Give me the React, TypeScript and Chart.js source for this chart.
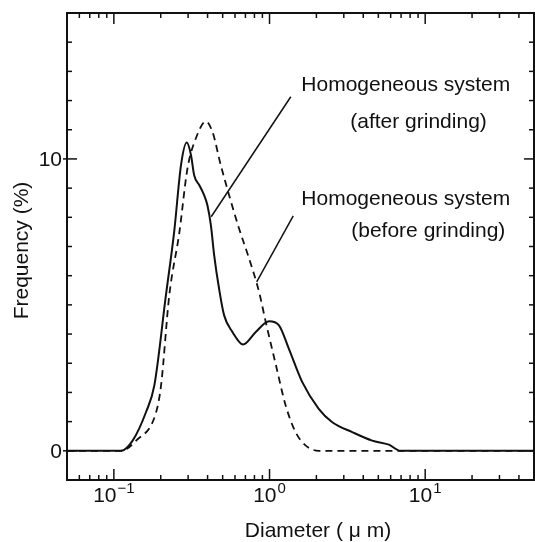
import { useEffect, useRef } from "react";
import { Chart, registerables } from "chart.js";

Chart.register(...registerables);

// Homogeneous system (after grinding) – solid line
const afterDiameter = [0.05, 0.08, 0.111, 0.132, 0.161, 0.182, 0.216, 0.244, 0.27, 0.294, 0.313, 0.328, 0.354, 0.38, 0.399, 0.42, 0.441, 0.474, 0.511, 0.578, 0.676, 0.816, 0.993, 1.15, 1.33, 1.62, 2.07, 2.53, 3.4, 4.56, 5.84, 6.93, 50];
const afterFreq = [0, 0, 0, 0.35, 1.33, 2.24, 5.33, 7.5, 9.79, 10.56, 10.13, 9.44, 9.1, 8.76, 8.41, 7.73, 6.7, 5.56, 4.64, 4.07, 3.64, 4.07, 4.44, 4.3, 3.5, 2.36, 1.44, 0.98, 0.64, 0.35, 0.21, 0, 0];

// Homogeneous system (before grinding) – dashed line
const beforeDiameter = [0.05, 0.111, 0.139, 0.187, 0.201, 0.227, 0.263, 0.297, 0.336, 0.39, 0.43, 0.486, 0.55, 0.637, 0.739, 0.857, 0.946, 1.1, 1.27, 1.47, 1.71, 2.07, 50];
const beforeFreq = [0, 0, 0.35, 1.33, 2.24, 5.33, 7.45, 9.67, 10.7, 11.28, 10.93, 9.79, 8.76, 7.62, 6.59, 5.44, 4.41, 2.93, 1.55, 0.64, 0.18, 0, 0];

// Axis settings
const xMin = 0.05;
const xMax = 50;
const yMin = -1;
const yMax = 15;
const xMajorTicks = [0.1, 1, 10];
const xMajorExponents = ["\u22121", "0", "1"];
const yMajorTicks = [0, 10];
const yMajorLabels = ["0", "10"];
const xTitle = "Diameter ( \u03bc m)";
const yTitle = "Frequency (%)";

// Annotation labels (data coordinates)
const labelTexts = ["Homogeneous system", "(after grinding)", "Homogeneous system", "(before grinding)"];
const labelX = [1.6, 3.3, 1.6, 3.35];
const labelY = [12.52, 11.25, 8.61, 7.51];

// Leader lines (data coordinates)
const leaderAfterX = [1.37, 0.422];
const leaderAfterY = [12.13, 8.02];
const leaderBeforeX = [1.42, 0.827];
const leaderBeforeY = [8.05, 5.79];

const FONT = '"Liberation Sans", Arial, Helvetica, sans-serif';
const INK = "#111";

const zip = (xs: number[], ys: number[]) => xs.map((x, i) => ({ x, y: ys[i] }));

const framePlugin = {
  id: "frame",
  afterDatasetsDraw(chart: any) {
    const { ctx, chartArea: a, scales } = chart;
    const xs = scales.x;
    const ys = scales.y;
    ctx.save();
    ctx.strokeStyle = INK;
    ctx.fillStyle = INK;
    // frame
    ctx.lineWidth = 2;
    ctx.strokeRect(a.left, a.top, a.right - a.left, a.bottom - a.top);

    ctx.lineWidth = 1.5;
    const line = (x1: number, y1: number, x2: number, y2: number) => {
      ctx.beginPath();
      ctx.moveTo(x1, y1);
      ctx.lineTo(x2, y2);
      ctx.stroke();
    };
    // x ticks (log)
    for (let e = -2; e <= 2; e++) {
      for (let m = 1; m <= 9; m++) {
        const v = m * Math.pow(10, e);
        if (v <= xMin * 1.0001 || v >= xMax * 0.9999) continue;
        const px = xs.getPixelForValue(v);
        const len = m === 1 ? 11 : 5;
        line(px, a.bottom, px, a.bottom - len);
        line(px, a.top, px, a.top + len);
      }
    }
    // y ticks
    for (let v = yMin + 1; v < yMax; v++) {
      const py = ys.getPixelForValue(v);
      const major = yMajorTicks.includes(v);
      const len = major ? 10 : 5;
      line(major ? a.left - 4 : a.left, py, a.left + len, py);
      line(a.right, py, a.right - len, py);
    }

    // y tick labels
    ctx.font = `21px ${FONT}`;
    ctx.textAlign = "right";
    ctx.textBaseline = "alphabetic";
    yMajorTicks.forEach((v, i) => {
      const py = ys.getPixelForValue(v);
      ctx.fillText(yMajorLabels[i], a.left - 5, py + 7.5);
    });

    // x tick labels with superscripts
    ctx.textAlign = "left";
    xMajorTicks.forEach((v, i) => {
      const px = xs.getPixelForValue(v);
      ctx.font = `21px ${FONT}`;
      const w1 = ctx.measureText("10").width;
      ctx.font = `15px ${FONT}`;
      const w2 = ctx.measureText(xMajorExponents[i]).width;
      const start = px - (w1 + w2 + 1) / 2;
      ctx.font = `21px ${FONT}`;
      ctx.fillText("10", start, a.bottom + 22);
      ctx.font = `15px ${FONT}`;
      ctx.fillText(xMajorExponents[i], start + w1 + 1, a.bottom + 13);
    });

    // axis titles
    ctx.font = `21px ${FONT}`;
    ctx.textAlign = "center";
    ctx.fillText(xTitle, a.left + 251, a.bottom + 57);
    ctx.save();
    ctx.translate(a.left - 39, (a.top + a.bottom) / 2 + 4);
    ctx.rotate(-Math.PI / 2);
    ctx.fillText(yTitle, 0, 0);
    ctx.restore();

    // annotation labels
    ctx.textAlign = "left";
    ctx.textBaseline = "middle";
    labelTexts.forEach((t, i) => {
      ctx.fillText(t, xs.getPixelForValue(labelX[i]), ys.getPixelForValue(labelY[i]));
    });
    ctx.restore();
  },
};

export default function App() {
  const ref = useRef<HTMLCanvasElement | null>(null);
  useEffect(() => {
    document.body.style.margin = "0";
    const canvas = ref.current!;
    const chart = new Chart(canvas, {
      type: "line",
      data: {
        datasets: [
          {
            label: "before grinding",
            data: zip(beforeDiameter, beforeFreq),
            borderColor: INK,
            borderWidth: 1.8,
            borderDash: [7, 5],
            pointRadius: 0,
            cubicInterpolationMode: "monotone",
            fill: false,
          },
          {
            label: "after grinding",
            data: zip(afterDiameter, afterFreq),
            borderColor: INK,
            borderWidth: 2,
            pointRadius: 0,
            cubicInterpolationMode: "monotone",
            fill: false,
          },
          {
            label: "leader after",
            data: zip(leaderAfterX, leaderAfterY),
            borderColor: INK,
            borderWidth: 1.5,
            pointRadius: 0,
            tension: 0,
            fill: false,
          },
          {
            label: "leader before",
            data: zip(leaderBeforeX, leaderBeforeY),
            borderColor: INK,
            borderWidth: 1.5,
            pointRadius: 0,
            tension: 0,
            fill: false,
          },
        ],
      },
      options: {
        animation: false,
        responsive: false,
        devicePixelRatio: 1,
        parsing: true,
        layout: { padding: { left: 67, top: 13, right: 1, bottom: 62 } },
        plugins: { legend: { display: false }, tooltip: { enabled: false } },
        scales: {
          x: { type: "logarithmic", min: xMin, max: xMax, display: false },
          y: { type: "linear", min: yMin, max: yMax, display: false },
        },
      },
      plugins: [framePlugin],
    });
    return () => chart.destroy();
  }, []);
  return (
    <div style={{ width: 535, height: 542, background: "#fff" }}>
      <canvas ref={ref} width={535} height={542} style={{ width: 535, height: 542, display: "block" }} />
    </div>
  );
}
